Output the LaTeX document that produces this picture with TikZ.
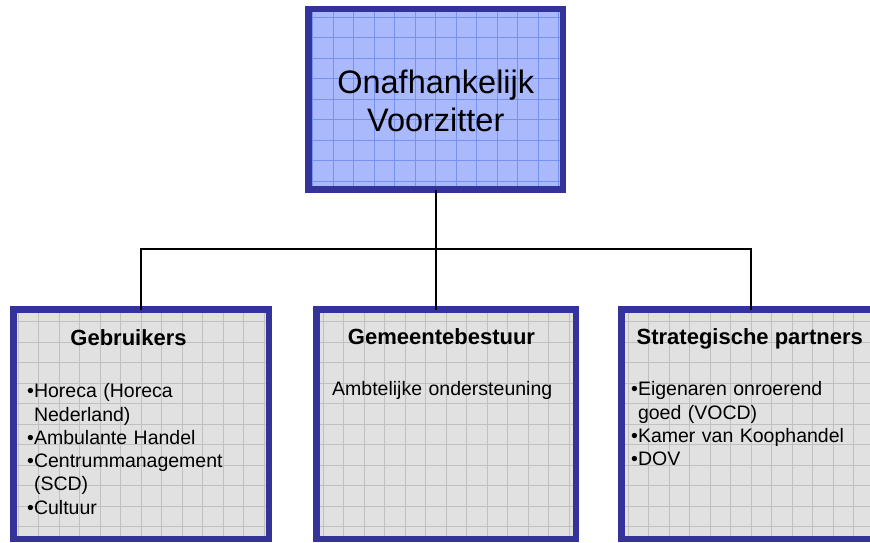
\documentclass[tikz,border=0pt]{standalone}
\usepackage{fontspec}
\setmainfont{Liberation Sans}
\usetikzlibrary{positioning}
\definecolor{kaderblauw}{RGB}{51,51,153}
\definecolor{vulblauw}{RGB}{170,184,252}
\definecolor{rasterblauw}{RGB}{118,146,240}
\definecolor{vulgrijs}{RGB}{225,225,225}
\definecolor{rastergrijs}{RGB}{192,192,192}
\tikzstyle{voorzitterbox} = [rectangle, draw=kaderblauw, line width=6.5pt, fill=vulblauw, minimum width=254.5pt, minimum height=180.5pt, inner sep=0pt, outer sep=0pt, path picture={\draw[rasterblauw, line width=0.8pt, xshift=-1.3pt, yshift=-7.8pt] (path picture bounding box.south west) grid[step=20.5pt] (path picture bounding box.north east);}]
\tikzstyle{groepbox} = [rectangle, draw=kaderblauw, line width=6.5pt, fill=vulgrijs, minimum width=255.5pt, minimum height=229.25pt, inner sep=0pt, outer sep=0pt, path picture={\draw[rastergrijs, line width=0.8pt, xshift=-1.3pt, yshift=-7.8pt] (path picture bounding box.south west) grid[step=20.5pt] (path picture bounding box.north east);}]
\tikzstyle{titel} = [font=\fontsize{32.5}{38}\selectfont, text width=250pt, align=center, anchor=base, inner sep=0pt]
\tikzstyle{kop} = [font=\fontsize{22}{26}\selectfont\bfseries, anchor=base, inner sep=0pt]
\tikzstyle{lijst} = [font=\fontsize{19.5}{23.3}\selectfont, text width=245pt, align=left, anchor=base west, inner sep=0pt]
\tikzstyle{verbinding} = [line width=2pt, black]
\newcommand{\inspring}{\phantom{\textbullet}}

\begin{document}
\begin{tikzpicture}[x=1pt, y=-1pt]
    \clip (0,0) rectangle (870,542);
    %vakken
    \node (voorzitter) [voorzitterbox] at (435.75,99.25) {};
    \node (gebruikers) [groepbox] at (141.25,424.125) {};
    \node (gemeente) [groepbox, minimum width=259.5pt, right=47.5pt of gebruikers] {};
    \node (partners) [groepbox, minimum width=259.5pt, right=45.5pt of gemeente] {};

    %teksten
    \node (voorzittertekst) [titel] at ([yshift=-84pt]voorzitter.north) {Onafhankelijk\\Voorzitter};
    \node (gebruikerskop) [kop] at ([xshift=-12.75pt, yshift=-35.75pt]gebruikers.north) {Gebruikers};
    \node (gebruikerslijst) [lijst] at ([xshift=13.5pt, yshift=-88.25pt]gebruikers.north west) {\textbullet Horeca (Horeca\\\inspring Nederland)\\\textbullet Ambulante Handel\\\textbullet Centrummanagement\\\inspring(SCD)\\\textbullet Cultuur};
    \node (gemeentekop) [kop] at ([xshift=-4.75pt, yshift=-34.75pt]gemeente.north) {Gemeentebestuur};
    \node (gemeentelijst) [lijst] at ([xshift=15.5pt, yshift=-86.25pt]gemeente.north west) {Ambtelijke ondersteuning};
    \node (partnerskop) [kop] at ([xshift=-1.5pt, yshift=-34.75pt]partners.north) {Strategische partners};
    \node (partnerslijst) [lijst] at ([xshift=9.5pt, yshift=-86.25pt]partners.north west) {\textbullet Eigenaren onroerend\\\inspring goed (VOCD)\\\textbullet Kamer van Koophandel\\\textbullet DOV};

    %verbindingen
    \coordinate (splitsing) at (435.75,249);
    \draw [verbinding] (voorzitter.south) -- (voorzitter.south |- gemeente.north);
    \draw [verbinding] (gebruikers.north) |- (splitsing) -| (partners.north);
\end{tikzpicture}
\end{document}
